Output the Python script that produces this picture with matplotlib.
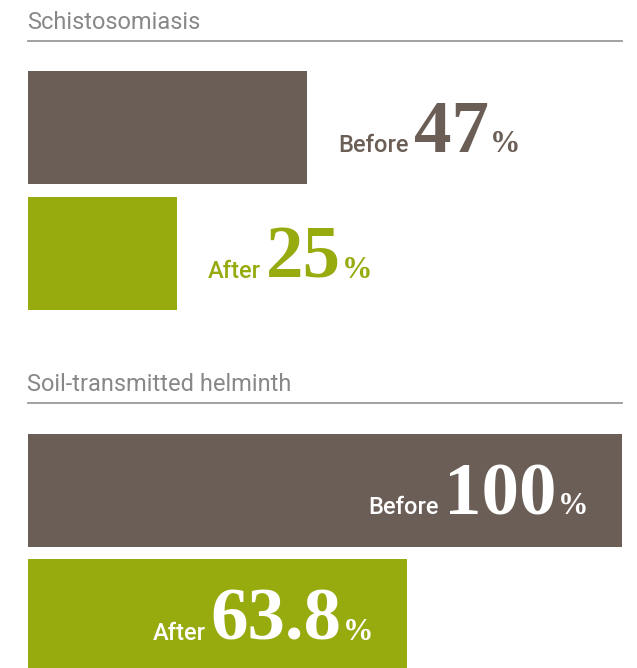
import matplotlib
matplotlib.use("Agg")
import matplotlib.pyplot as plt
from matplotlib.lines import Line2D

# data
panels = ["Schistosomiasis", "Soil-transmitted helminth"]
stages = ["Before", "After"]
values = [[47, 25], [100, 63.8]]
value_text = [["47", "25"], ["100", "63.8"]]
inside = [False, True]

BROWN = "#6b5e56"
GREEN = "#97aa0e"
GREY = "#888888"
colors = [BROWN, GREEN]

W, H = 637, 668
fig = plt.figure(figsize=(W / 100, H / 100), dpi=100)
fig.patch.set_facecolor("white")

def fx(px):
    return px / W

def fy(py):
    return 1 - py / H

x0, x1 = 28, 622
# (title baseline, rule y, bars top, bars bottom) in pixels from top
rows = [(29, 40.5, 71, 310), (391, 402.5, 434, 672)]

renderer = fig.canvas.get_renderer()

for p, (tb, ry, top, bot) in enumerate(rows):
    fig.text(fx(x0 - 1), fy(tb), panels[p], fontsize=17, family="Roboto",
             color=GREY, va="baseline", ha="left")
    fig.add_artist(Line2D([fx(x0), fx(x1)], [fy(ry), fy(ry)],
                          transform=fig.transFigure, color="#9a9a9a", lw=1.3))

    ax = fig.add_axes([fx(x0), fy(bot), fx(x1 - x0), (bot - top) / H])
    h = 113 / 126
    ax.barh([0, 1], values[p], height=h, color=colors, zorder=2)
    ax.set_xlim(0, 100)
    ax.set_ylim(1 + h / 2, -h / 2)
    ax.axis("off")

    for i, stage in enumerate(stages):
        v = values[p][i]
        col = "white" if inside[p] else colors[i]
        dy = -24  # baseline below bar centre, pixels
        parts = [(stage, dict(fontsize=17, family="Roboto", weight="medium")),
                 (value_text[p][i], dict(fontsize=54, family="Liberation Serif", weight="bold")),
                 ("%", dict(fontsize=22, family="Liberation Serif", weight="bold"))]
        gaps = [5, 1]
        if not inside[p]:
            dx = 31
            for k, (s, kw) in enumerate(parts):
                t = ax.annotate(s, xy=(v, i), xycoords="data", xytext=(dx, dy),
                                textcoords="offset pixels", ha="left",
                                va="baseline", color=col, **kw)
                wpx = t.get_window_extent(renderer).width
                dx += wpx + (gaps[k] if k < 2 else 0)
        else:
            dx = -34
            for k, (s, kw) in reversed(list(enumerate(parts))):
                t = ax.annotate(s, xy=(v, i), xycoords="data", xytext=(dx, dy),
                                textcoords="offset pixels", ha="right",
                                va="baseline", color=col, **kw)
                wpx = t.get_window_extent(renderer).width
                dx -= wpx + (gaps[k - 1] if k > 0 else 0)

fig.savefig("out.png", dpi=100)
